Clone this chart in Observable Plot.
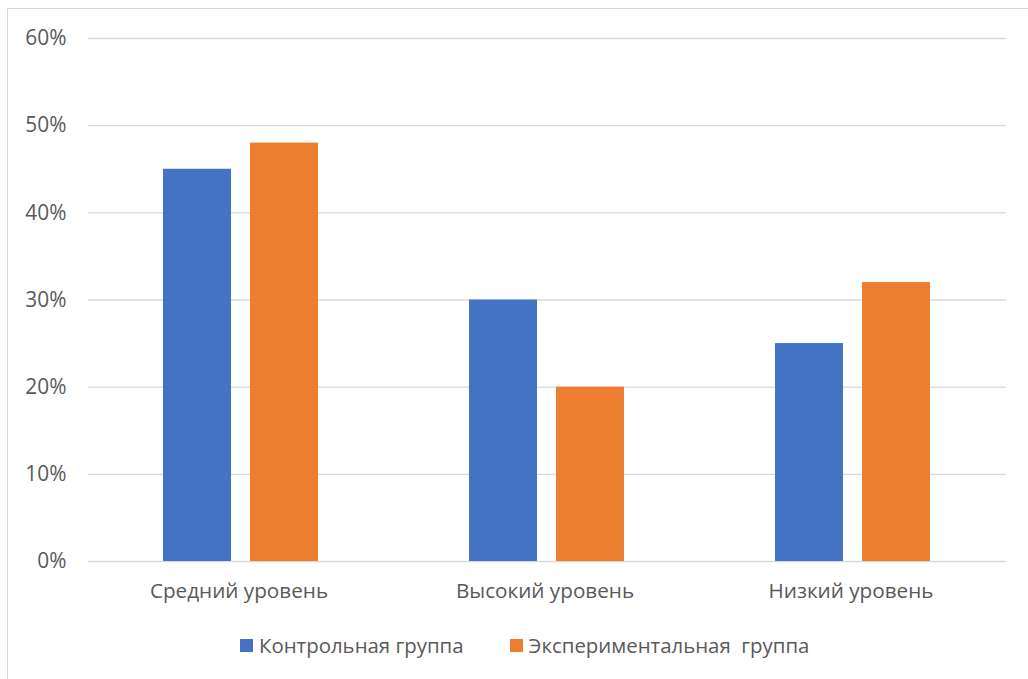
<!DOCTYPE html>
<html>
<head>
<meta charset="utf-8">
<script src="https://cdn.jsdelivr.net/npm/d3@7"></script>
<script src="https://cdn.jsdelivr.net/npm/@observablehq/plot@0.6"></script>
<style>
  html, body { margin: 0; padding: 0; background: #fff; }
  body { width: 1028px; height: 679px; position: relative; overflow: hidden; font-family: "Open Sans", sans-serif; }
  #frame { position: absolute; left: 7px; top: 8px; width: 1100px; height: 720px; border: 1px solid #d9d9d9; box-sizing: border-box; }
  #grid, #bars { position: absolute; left: 0; top: 0; }
  #legend { position: absolute; left: 240px; top: 632px; height: 26px; display: flex; align-items: center; font-size: 20.4px; color: #595959; white-space: pre; }
  .item { display: flex; align-items: center; }
  .sw { width: 13px; height: 13px; margin-right: 6px; }
</style>
</head>
<body>
<div id="frame"></div>
<div id="grid"></div>
<div id="bars"></div>
<div id="legend"></div>
<script>
const categories = ["Средний уровень", "Высокий уровень", "Низкий уровень"];
const groups = ["Контрольная группа", "Экспериментальная  группа"];
const controlValues = [0.45, 0.30, 0.25];
const experimentalValues = [0.48, 0.20, 0.32];
const yTicks = [0, 0.1, 0.2, 0.3, 0.4, 0.5, 0.6];
const colors = ["#4472C4", "#ED7D31"];

const data = [];
categories.forEach((c, i) => {
  data.push({category: c, group: groups[0], value: controlValues[i]});
  data.push({category: c, group: groups[1], value: experimentalValues[i]});
});

const frameOpts = {
  width: 1028,
  height: 610,
  marginLeft: 88,
  marginRight: 22,
  marginTop: 38,
  marginBottom: 49,
  style: {fontFamily: "Open Sans, sans-serif", fontSize: "20.7px", color: "#595959", background: "transparent", overflow: "visible"}
};

// background: gridlines, y axis and category labels
const grid = Plot.plot({
  ...frameOpts,
  x: {domain: categories, paddingInner: 0.493, paddingOuter: 0.2465, axis: null},
  y: {domain: [0, 0.6], axis: null},
  marks: [
    Plot.ruleY(yTicks, {stroke: "#d9d9d9", strokeWidth: 1.3}),
    Plot.axisY({ticks: yTicks, tickFormat: d3.format(".0%"), tickSize: 0, tickPadding: 22, fontSize: 20.9, label: null}),
    Plot.axisX({tickSize: 0, tickPadding: 22, fontSize: 20.7, dx: -2.5, label: null})
  ]
});
document.getElementById("grid").appendChild(grid);

// bars, grouped by facet
const bars = Plot.plot({
  ...frameOpts,
  fx: {domain: categories, paddingInner: 0.49, paddingOuter: 0.245, axis: null},
  x: {domain: groups, paddingInner: 0.215, paddingOuter: 0, axis: null},
  y: {domain: [0, 0.6], axis: null},
  color: {domain: groups, range: colors},
  marks: [
    Plot.barY(data, {fx: "category", x: "group", y: "value", fill: "group"})
  ]
});
document.getElementById("bars").appendChild(bars);

const legend = document.getElementById("legend");
groups.forEach((g, i) => {
  const item = document.createElement("div");
  item.className = "item";
  if (i > 0) item.style.marginLeft = "46px";
  const sw = document.createElement("div");
  sw.className = "sw";
  sw.style.background = colors[i];
  const t = document.createElement("span");
  t.textContent = g;
  item.appendChild(sw);
  item.appendChild(t);
  legend.appendChild(item);
});
</script>
</body>
</html>
